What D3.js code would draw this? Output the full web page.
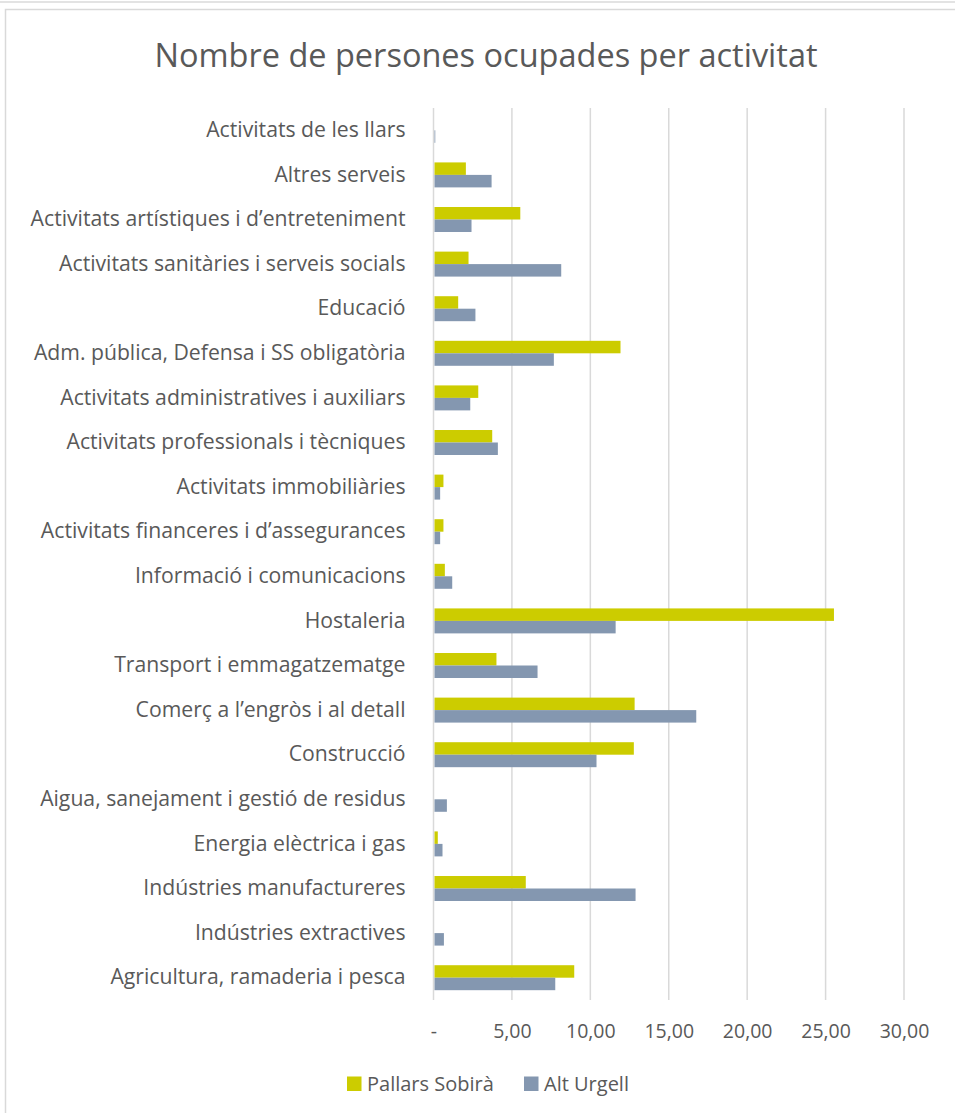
<!DOCTYPE html>
<html>
<head>
<meta charset="utf-8">
<script src="https://cdn.jsdelivr.net/npm/d3@7"></script>
<style>
  body { margin: 0; background: #fff; }
  text { font-family: "Open Sans", sans-serif; fill: #595959; }
</style>
</head>
<body>
<div id="chart"></div>
<script>
// categories, top to bottom
let categories = [
  "Activitats de les llars",
  "Altres serveis",
  "Activitats artístiques i d’entreteniment",
  "Activitats sanitàries i serveis socials",
  "Educació",
  "Adm. pública, Defensa i SS obligatòria",
  "Activitats administratives i auxiliars",
  "Activitats professionals i tècniques",
  "Activitats immobiliàries",
  "Activitats financeres i d’assegurances",
  "Informació i comunicacions",
  "Hostaleria",
  "Transport i emmagatzematge",
  "Comerç a l’engròs i al detall",
  "Construcció",
  "Aigua, sanejament i gestió de residus",
  "Energia elèctrica i gas",
  "Indústries manufactureres",
  "Indústries extractives",
  "Agricultura, ramaderia i pesca"
];

let pallarsValues = [0, 2.0, 5.47, 2.17, 1.51, 11.86, 2.79, 3.68, 0.57, 0.57, 0.66, 25.47, 3.95, 12.76, 12.71, 0, 0.21, 5.82, 0, 8.91];
let altUrgellValues = [0.05, 3.64, 2.36, 8.08, 2.61, 7.61, 2.28, 4.04, 0.36, 0.36, 1.13, 11.55, 6.57, 16.69, 10.33, 0.79, 0.51, 12.82, 0.6, 7.70];

let seriesNames = ["Pallars Sobirà", "Alt Urgell"];
let seriesColors = ["#cccc00", "#8497b0"];
let xTicks = [0, 5, 10, 15, 20, 25, 30];

let fWidth = 955, fHeight = 1113;
let margin = {top: 108, right: 51, bottom: 113, left: 433.5};
let width = fWidth - margin.left - margin.right,
  height = fHeight - margin.top - margin.bottom;

let svg = d3.select("#chart").append("svg")
  .attr("width", fWidth)
  .attr("height", fHeight);

// outer frame (cropped excel chart border)
svg.append("line")
  .attr("x1", 0).attr("x2", fWidth)
  .attr("y1", 2).attr("y2", 2)
  .attr("stroke", "#e3e3e3").attr("stroke-width", 2);
svg.append("rect")
  .attr("x", 5.5).attr("y", 9.5)
  .attr("width", fWidth + 20).attr("height", fHeight + 20)
  .attr("fill", "none")
  .attr("stroke", "#d9d9d9").attr("stroke-width", 1.5);

svg.append("text")
  .attr("x", 486)
  .attr("y", 67)
  .attr("text-anchor", "middle")
  .style("font-size", "32.5px")
  .text("Nombre de persones ocupades per activitat");

let canvas = svg.append("g")
  .attr("transform", `translate(${margin.left}, ${margin.top})`);

let xScale = d3.scaleLinear()
  .domain([0, 30])
  .range([0, width]);

let yScale = d3.scaleBand()
  .domain(categories)
  .range([0, height])
  .paddingInner(0.44)
  .paddingOuter(0.22);

let subScale = d3.scaleBand()
  .domain(seriesNames)
  .range([0, yScale.bandwidth()]);

// gridlines
canvas.append("g")
  .selectAll("line")
  .data(xTicks)
  .enter().append("line")
    .attr("x1", d => xScale(d))
    .attr("x2", d => xScale(d))
    .attr("y1", 0)
    .attr("y2", height)
    .attr("stroke", "#d9d9d9")
    .attr("stroke-width", 1.5);

// x axis labels
let xAxis = canvas.append("g")
  .attr("transform", `translate(0, ${height})`)
  .call(d3.axisBottom(xScale)
    .tickValues(xTicks)
    .tickSize(0)
    .tickPadding(24)
    .tickFormat(d => d === 0 ? "-" : d3.format(".2f")(d).replace(".", ",")));
xAxis.select(".domain").remove();
xAxis.selectAll("text")
  .style("font-size", "19.5px")
  .style("font-family", "'Open Sans', sans-serif")
  .attr("fill", "#595959");

// y axis labels
let yAxis = canvas.append("g")
  .call(d3.axisLeft(yScale).tickSize(0).tickPadding(28));
yAxis.select(".domain").remove();
yAxis.selectAll("text")
  .style("font-size", "21.2px")
  .style("font-family", "'Open Sans', sans-serif")
  .attr("fill", "#595959");

let rows = categories.map((c, i) => ({
  cat: c,
  values: [pallarsValues[i], altUrgellValues[i]]
}));

let groups = canvas.selectAll(".row")
  .data(rows)
  .enter().append("g")
    .classed("row", true)
    .attr("transform", d => `translate(0, ${yScale(d.cat)})`);

groups.selectAll(".bar")
  .data(d => d.values.map((v, j) => ({name: seriesNames[j], value: v, color: seriesColors[j]})))
  .enter().append("rect")
    .classed("bar", true)
    .attr("x", xScale(0) + 1)
    .attr("y", d => subScale(d.name))
    .attr("width", d => Math.max(0, xScale(d.value) - xScale(0)))
    .attr("height", subScale.bandwidth())
    .attr("fill", d => d.color);

// legend
let legendItems = [{name: seriesNames[0], x: 347}, {name: seriesNames[1], x: 524}];
let legend = svg.append("g").attr("transform", "translate(0, 1076.5)");
legendItems.forEach((d, i) => {
  legend.append("rect")
    .attr("x", d.x).attr("y", 0)
    .attr("width", 14.5).attr("height", 14.5)
    .attr("fill", seriesColors[i]);
  legend.append("text")
    .attr("x", d.x + 20).attr("y", 14.5)
    .style("font-size", "20px")
    .text(d.name);
});
</script>
</body>
</html>
